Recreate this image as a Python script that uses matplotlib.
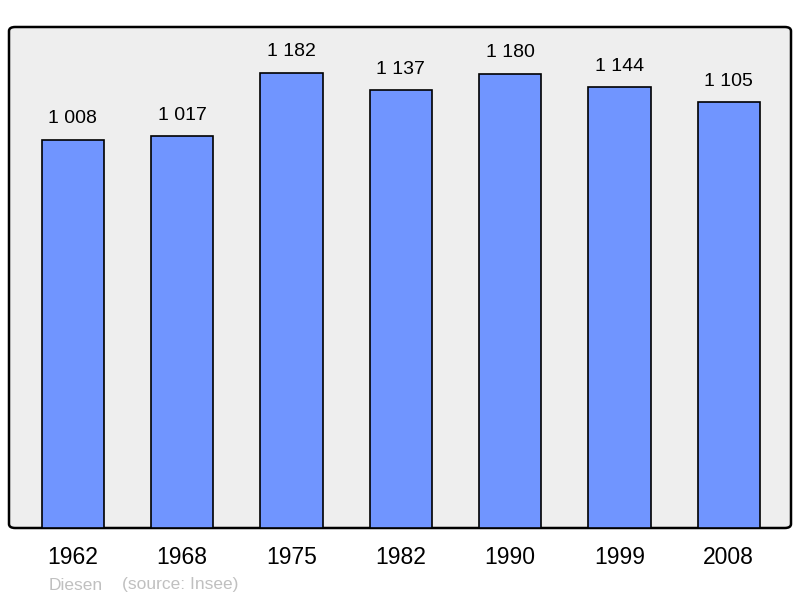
import matplotlib
matplotlib.use("Agg")
import matplotlib.pyplot as plt
from matplotlib.patches import FancyBboxPatch

years = ["1962", "1968", "1975", "1982", "1990", "1999", "2008"]
population = [1008, 1017, 1182, 1137, 1180, 1144, 1105]
labels = ["1 008", "1 017", "1 182", "1 137", "1 180", "1 144", "1 105"]

plt.rcParams["font.family"] = ["Liberation Sans", "DejaVu Sans"]

fig = plt.figure(figsize=(8, 5.98), dpi=100)
ax = fig.add_axes([9 / 800, 70 / 598, 782 / 800, 501 / 598])
ax.set_facecolor("none")

# rounded grey panel behind the bars
panel = FancyBboxPatch((0, 0), 1, 1,
                       boxstyle="round,pad=0,rounding_size=0.008",
                       transform=ax.transAxes, facecolor="#eeeeee",
                       edgecolor="black", linewidth=1.8, zorder=0, clip_on=False)
ax.add_patch(panel)

x = range(len(years))
ax.bar(x, population, width=0.57, color="#7095ff", edgecolor="black",
       linewidth=1.2, zorder=2)
for xi, v, lab in zip(x, population, labels):
    ax.annotate(lab, (xi, v), xytext=(0, 15), textcoords="offset points",
                ha="center", va="center", fontsize=14)

ax.set_xlim(-0.585, 6.57)
ax.set_ylim(0, 1301)
ax.set_xticks(list(x))
ax.set_xticklabels(years, fontsize=16.5)
ax.tick_params(axis="x", length=0, pad=13)
ax.set_yticks([])
for s in ax.spines.values():
    s.set_visible(False)

fig.text(49 / 800, 1 - 585 / 598, "Diesen", color="#c0c0c0", fontsize=12.5, va="center")
fig.text(122 / 800, 1 - 585 / 598, "(source: Insee)", color="#c0c0c0", fontsize=12.5, va="center")

fig.savefig("out.png", dpi=100)
